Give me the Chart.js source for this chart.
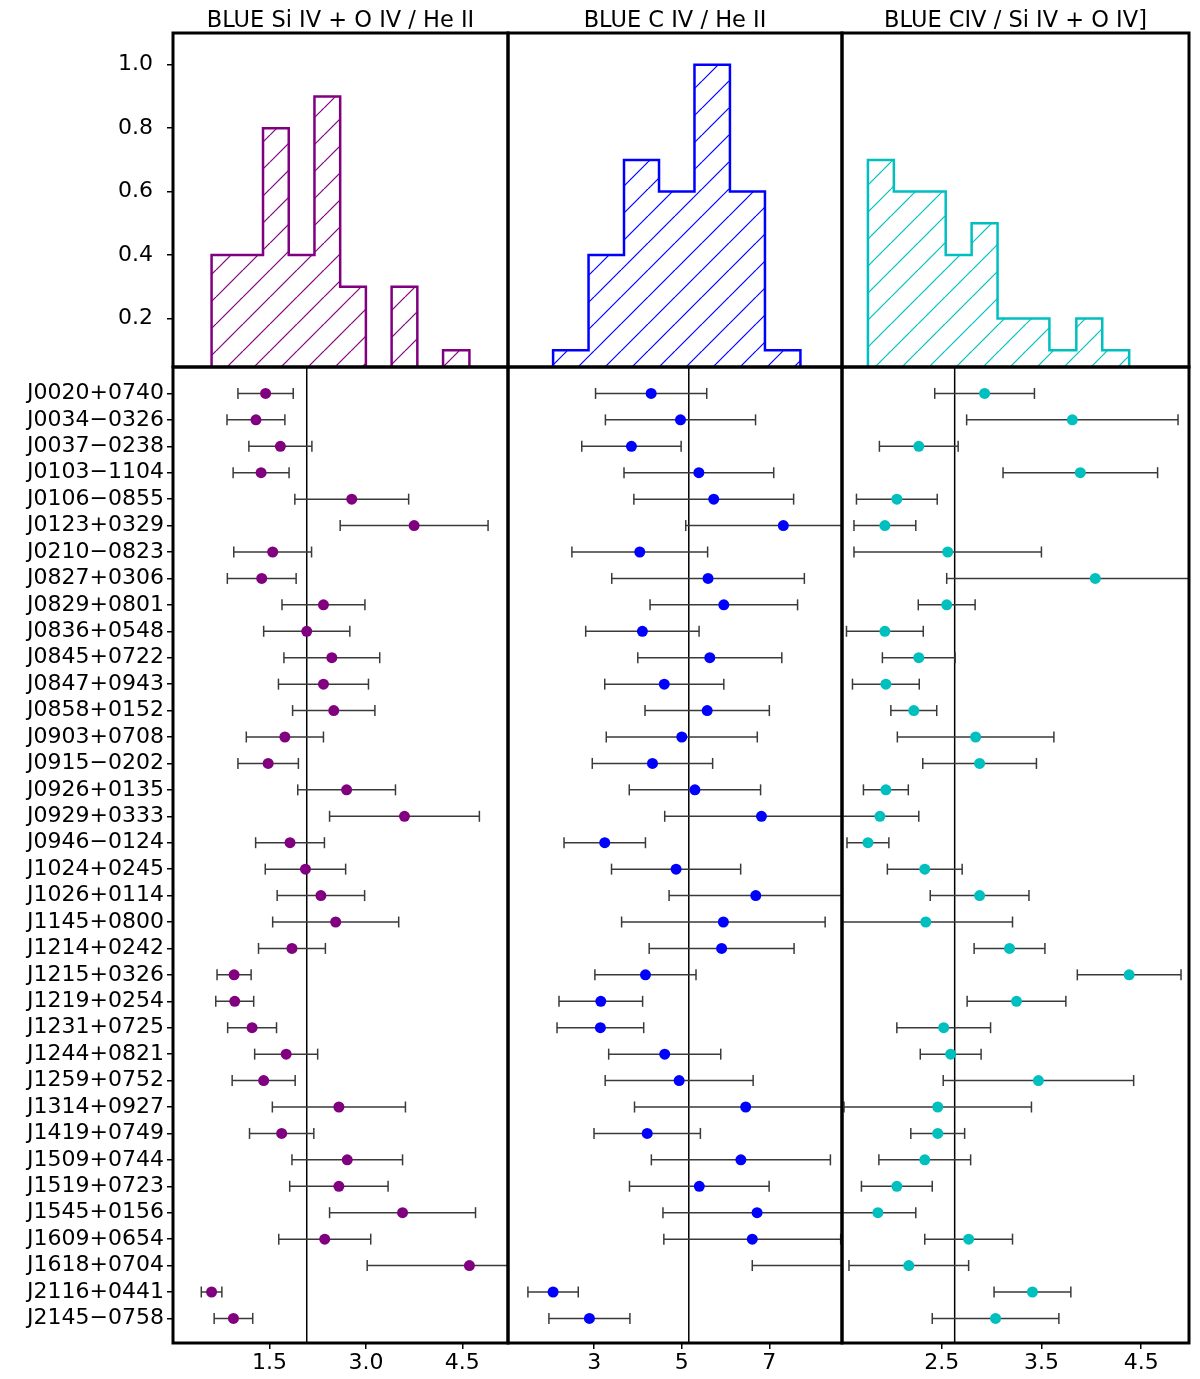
<!DOCTYPE html>
<html>
<head>
<meta charset="utf-8">
<script src="https://cdn.jsdelivr.net/npm/chart.js@4.4.1/dist/chart.umd.min.js"></script>
<style>
  body { margin: 0; background: #fff; }
  #wrap { position: relative; width: 1200px; height: 1379px; }
  #wrap canvas { position: absolute; left: 0; top: 0; }
</style>
</head>
<body>
<div id="wrap">
  <canvas id="hist0" width="1200" height="1379"></canvas>
  <canvas id="hist1" width="1200" height="1379"></canvas>
  <canvas id="hist2" width="1200" height="1379"></canvas>
  <canvas id="dots0" width="1200" height="1379"></canvas>
  <canvas id="dots1" width="1200" height="1379"></canvas>
  <canvas id="dots2" width="1200" height="1379"></canvas>
</div>
<script>
// ---- data ----
const objectNames = [
  "J0020+0740", "J0034\u22120326", "J0037\u22120238", "J0103\u22121104", "J0106\u22120855",
  "J0123+0329", "J0210\u22120823", "J0827+0306", "J0829+0801", "J0836+0548",
  "J0845+0722", "J0847+0943", "J0858+0152", "J0903+0708", "J0915\u22120202",
  "J0926+0135", "J0929+0333", "J0946\u22120124", "J1024+0245", "J1026+0114",
  "J1145+0800", "J1214+0242", "J1215+0326", "J1219+0254", "J1231+0725",
  "J1244+0821", "J1259+0752", "J1314+0927", "J1419+0749", "J1509+0744",
  "J1519+0723", "J1545+0156", "J1609+0654", "J1618+0704", "J2116+0441",
  "J2145\u22120758"
];

// Si IV + O IV / He II
const siovHeii = [1.44, 1.29, 1.67, 1.37, 2.78, 3.75, 1.55, 1.38, 2.34, 2.08,
  2.47, 2.34, 2.50, 1.74, 1.48, 2.70, 3.60, 1.82, 2.06, 2.30,
  2.53, 1.85, 0.95, 0.96, 1.23, 1.76, 1.41, 2.58, 1.69, 2.71,
  2.58, 3.57, 2.36, 4.61, 0.60, 0.94];
const siovHeiiErr = [0.43, 0.45, 0.49, 0.435, 0.885, 1.15, 0.605, 0.535, 0.645, 0.67,
  0.745, 0.70, 0.64, 0.60, 0.47, 0.76, 1.165, 0.535, 0.625, 0.68,
  0.98, 0.52, 0.265, 0.295, 0.38, 0.49, 0.49, 1.035, 0.50, 0.86,
  0.765, 1.135, 0.715, 1.59, 0.16, 0.30];

// C IV / He II
const civHeii = [4.30, 4.97, 3.85, 5.39, 5.73, 7.32, 4.04, 5.60, 5.96, 4.10,
  5.64, 4.60, 5.58, 5.00, 4.33, 5.30, 6.82, 3.24, 4.87, 6.69,
  5.95, 5.91, 4.17, 3.15, 3.14, 4.61, 4.94, 6.46, 4.21, 6.35,
  5.40, 6.72, 6.61, 10.13, 2.06, 2.89];
const civHeiiErr = [1.27, 1.715, 1.135, 1.71, 1.825, 2.23, 1.55, 2.20, 1.685, 1.295,
  1.645, 1.36, 1.42, 1.725, 1.375, 1.50, 2.21, 0.93, 1.475, 1.98,
  2.325, 1.655, 1.155, 0.955, 0.99, 1.28, 1.69, 2.54, 1.215, 2.045,
  1.595, 2.15, 2.02, 3.52, 0.575, 0.925];

// C IV / Si IV + O IV]
const civSiov = [2.93, 3.81, 2.27, 3.89, 2.05, 1.93, 2.56, 4.04, 2.55, 1.93,
  2.27, 1.94, 2.22, 2.84, 2.88, 1.94, 1.88, 1.76, 2.33, 2.88,
  2.34, 3.18, 4.38, 3.25, 2.52, 2.59, 3.47, 2.46, 2.46, 2.33,
  2.05, 1.86, 2.77, 2.17, 3.41, 3.04];
const civSiovErr = [0.50, 1.06, 0.395, 0.775, 0.405, 0.31, 0.94, 1.49, 0.285, 0.385,
  0.365, 0.335, 0.23, 0.785, 0.57, 0.225, 0.39, 0.21, 0.375, 0.495,
  0.87, 0.355, 0.52, 0.495, 0.47, 0.305, 0.955, 0.94, 0.27, 0.46,
  0.355, 0.38, 0.44, 0.60, 0.385, 0.635];

const medianLines = [2.08, 5.16, 2.63];

// histograms (normalised counts per bin)
const siovEdges = [0.60, 1.00, 1.40, 1.80, 2.20, 2.60, 3.00, 3.40, 3.80, 4.20, 4.61];
const siovHeights = [0.4, 0.4, 0.8, 0.4, 0.9, 0.3, 0.0, 0.3, 0.0, 0.1];
const civEdges = [2.06, 2.87, 3.68, 4.48, 5.29, 6.10, 6.90, 7.71, 8.52, 9.33, 10.13];
const civHeights = [0.1, 0.4, 0.7, 0.6, 1.0, 0.6, 0.1, 0.0, 0.0, 0.1];
const civSiovEdges = [1.76, 2.02, 2.28, 2.54, 2.80, 3.06, 3.32, 3.58, 3.85, 4.11, 4.38];
const civSiovHeights = [0.7, 0.6, 0.6, 0.4, 0.5, 0.2, 0.2, 0.1, 0.2, 0.1];

const titles = ["BLUE Si IV + O IV / He II", "BLUE C IV / He II", "BLUE CIV / Si IV + O IV]"];
const xRanges = [[0, 5.21], [1.03, 8.66], [1.5, 4.98]];
const xTickValues = [[1.5, 3.0, 4.5], [3, 5, 7], [2.5, 3.5, 4.5]];
const xTickDigits = [1, 0, 1];
const histYTicks = [0.2, 0.4, 0.6, 0.8, 1.0];

// ---- layout ----
const W = 1200, H = 1379;
const panelX = [173, 508, 842, 1189];
const histBottom = 367, dotsBottom = 1343;
const colors = ['#800080', '#0000ff', '#00bfbf'];
const errColor = '#3a3a3a';

Chart.defaults.font.family = "'DejaVu Sans', sans-serif";
Chart.defaults.font.size = 22;
Chart.defaults.color = '#000';

const framePlugin = {
  id: 'frame',
  afterDraw(chart) {
    const a = chart.chartArea, ctx = chart.ctx;
    ctx.save();
    ctx.strokeStyle = '#000';
    ctx.lineWidth = 3;
    ctx.strokeRect(a.left, a.top, a.right - a.left, a.bottom - a.top);
    ctx.restore();
  }
};

function hatch(canvas, color) {
  const tile = document.createElement('canvas');
  tile.width = tile.height = 27;
  const g = tile.getContext('2d');
  g.strokeStyle = color;
  g.lineWidth = 1.2;
  for (const k of [-27, 0, 27]) {
    g.beginPath(); g.moveTo(k, 27); g.lineTo(k + 27, 0); g.stroke();
  }
  return canvas.getContext('2d').createPattern(tile, 'repeat');
}

function stepPoints(edges, heights) {
  const pts = [{x: edges[0], y: 0}];
  heights.forEach((h, i) => pts.push({x: edges[i], y: h}));
  pts.push({x: edges[edges.length - 1], y: 0});
  return pts;
}

function errorPoints(vals, errs) {
  const pts = [];
  vals.forEach((v, i) => {
    pts.push({x: v - errs[i], y: i}, {x: v + errs[i], y: i}, {x: null, y: null});
  });
  return pts;
}

const tickGrid = { drawOnChartArea: false, drawTicks: true, tickLength: 6, color: '#000', lineWidth: 1.5 };

function makeHist(i, edges, heights) {
  const canvas = document.getElementById('hist' + i);
  const left = i === 0 ? 0 : panelX[i];
  new Chart(canvas, {
    type: 'line',
    data: {
      datasets: [{
        data: stepPoints(edges, heights),
        stepped: true,
        borderColor: colors[i],
        borderWidth: 2.5,
        backgroundColor: hatch(canvas, colors[i]),
        fill: 'origin',
        pointRadius: 0,
        clip: 0
      }]
    },
    options: {
      responsive: false, animation: false, events: [],
      layout: { padding: { left: left, right: W - panelX[i + 1], top: 0, bottom: H - histBottom } },
      plugins: {
        legend: { display: false },
        tooltip: { enabled: false },
        title: {
          display: true, fullSize: false, text: titles[i], color: '#000',
          font: { size: 22.5, weight: 'normal', lineHeight: 1 }, padding: { top: 10.25, bottom: 0.25 }
        }
      },
      scales: {
        x: { type: 'linear', min: xRanges[i][0], max: xRanges[i][1], display: false },
        y: {
          type: 'linear', min: 0.047, max: 1.1, display: i === 0,
          afterFit: s => { if (i === 0) s.width = panelX[0]; },
          afterBuildTicks: s => { s.ticks = histYTicks.map(v => ({value: v})); },
          ticks: { callback: v => v.toFixed(1), padding: 14 },
          grid: tickGrid,
          border: { display: false }
        }
      }
    },
    plugins: [framePlugin]
  });
}

function makeDots(i, vals, errs) {
  const canvas = document.getElementById('dots' + i);
  const left = i === 0 ? 0 : panelX[i];
  new Chart(canvas, {
    type: 'line',
    data: {
      datasets: [
        {
          data: [{x: medianLines[i], y: -1}, {x: medianLines[i], y: 36}],
          borderColor: '#000', borderWidth: 1.5, pointRadius: 0, order: 3
        },
        {
          data: errorPoints(vals, errs),
          borderColor: errColor, borderWidth: 1.5, spanGaps: false,
          pointStyle: 'line', rotation: 90, pointRadius: 5.5,
          pointBorderColor: errColor, pointBorderWidth: 1.5, clip: 0, order: 2
        },
        {
          data: vals.map((v, k) => ({x: v, y: k})),
          showLine: false, pointRadius: 5.5, pointBackgroundColor: colors[i],
          pointBorderWidth: 0, order: 1
        }
      ]
    },
    options: {
      responsive: false, animation: false, events: [],
      layout: { padding: { left: left, right: W - panelX[i + 1], top: histBottom, bottom: 0 } },
      plugins: { legend: { display: false }, tooltip: { enabled: false } },
      scales: {
        x: {
          type: 'linear', min: xRanges[i][0], max: xRanges[i][1],
          afterFit: s => { s.height = H - dotsBottom; },
          afterBuildTicks: s => { s.ticks = xTickValues[i].map(v => ({value: v})); },
          ticks: { callback: v => v.toFixed(xTickDigits[i]), padding: 1, maxRotation: 0, autoSkip: false },
          grid: tickGrid,
          border: { display: false }
        },
        y: {
          type: 'linear', min: -1, max: 35.93, reverse: true, display: i === 0,
          afterFit: s => { if (i === 0) s.width = panelX[0]; },
          afterBuildTicks: s => { s.ticks = objectNames.map((n, k) => ({value: k})); },
          ticks: { callback: v => objectNames[v], autoSkip: false, padding: 3 },
          grid: tickGrid,
          border: { display: false }
        }
      }
    },
    plugins: [framePlugin]
  });
}

makeHist(0, siovEdges, siovHeights);
makeHist(1, civEdges, civHeights);
makeHist(2, civSiovEdges, civSiovHeights);
makeDots(0, siovHeii, siovHeiiErr);
makeDots(1, civHeii, civHeiiErr);
makeDots(2, civSiov, civSiovErr);
</script>
</body>
</html>
